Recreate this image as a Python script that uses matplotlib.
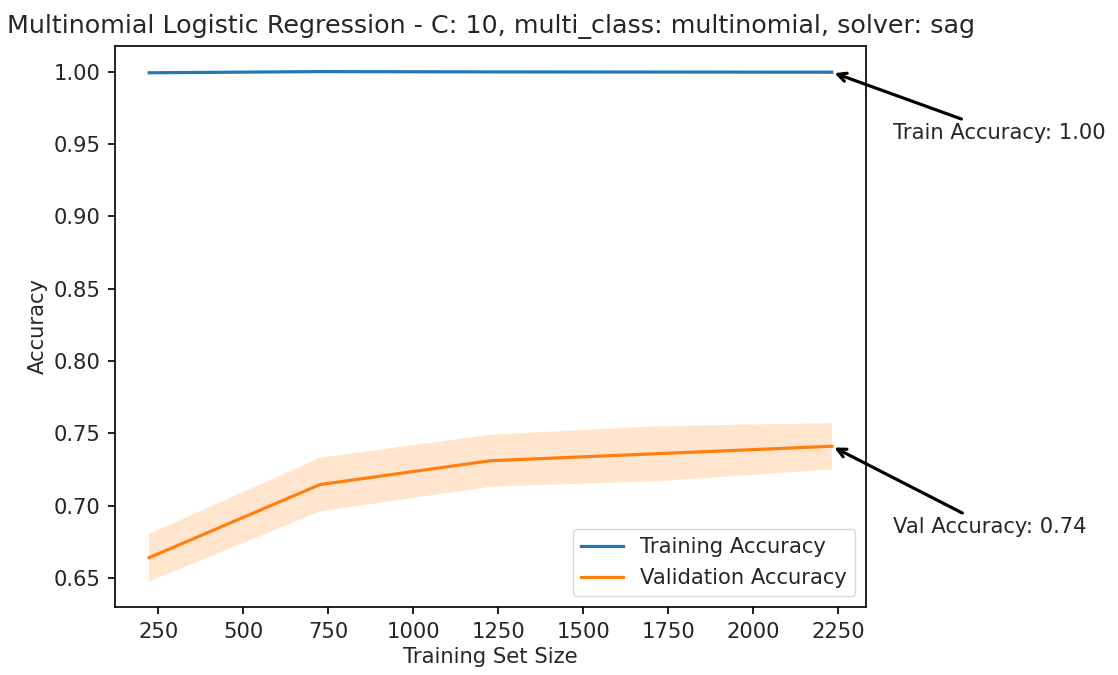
import matplotlib
matplotlib.use("Agg")
import matplotlib.pyplot as plt
import numpy as np

# learning curve results (5 train sizes)
train_sizes = [223, 725, 1227, 1730, 2232]
train_mean = [0.9992, 1.0000, 0.9998, 0.9997, 0.9996]
train_std = [0.0004, 0.0001, 0.0002, 0.0002, 0.0002]
val_mean = [0.664, 0.7145, 0.731, 0.736, 0.741]
val_std = [0.0165, 0.0185, 0.018, 0.019, 0.016]

title = "Multinomial Logistic Regression - C: 10, multi_class: multinomial, solver: sag"

S = 1.52  # scale from a 6.4x4.8 notebook figure up to this canvas
plt.rcParams.update({
    "font.size": 10 * S,
    "axes.linewidth": 0.8 * S,
    "xtick.major.width": 0.8 * S,
    "ytick.major.width": 0.8 * S,
    "xtick.major.size": 3.5 * S,
    "ytick.major.size": 3.5 * S,
    "xtick.major.pad": 3.5 * S,
    "ytick.major.pad": 3.5 * S,
    "lines.linewidth": 1.5 * S,
    "text.color": "#262626",
    "axes.labelcolor": "#262626",
    "xtick.labelcolor": "#262626",
    "ytick.labelcolor": "#262626",
})

fig = plt.figure(figsize=(11.18, 6.75), dpi=100)
ax = fig.add_axes([0.1029, 0.1007, 0.6717, 0.8312])

sizes = np.array(train_sizes)
tm, ts = np.array(train_mean), np.array(train_std)
vm, vs = np.array(val_mean), np.array(val_std)

ax.plot(sizes, tm, label="Training Accuracy")
ax.fill_between(sizes, tm - ts, tm + ts, alpha=0.2)
ax.plot(sizes, vm, label="Validation Accuracy")
ax.fill_between(sizes, vm - vs, vm + vs, alpha=0.2)

ax.set_title(title, fontsize=12 * S, pad=6 * S)
ax.set_xlabel("Training Set Size")
ax.set_ylabel("Accuracy")
ax.legend(loc="lower right")

arrow = dict(facecolor="black", arrowstyle="->", lw=1.5 * S)
ax.annotate(f"Train Accuracy: {train_mean[-1]:.2f}",
            xy=(sizes[-1], tm[-1]), xytext=(sizes[-1] + 180, tm[-1] - 0.046),
            arrowprops=arrow, fontsize=10 * S)
ax.annotate(f"Val Accuracy: {val_mean[-1]:.2f}",
            xy=(sizes[-1], vm[-1]), xytext=(sizes[-1] + 180, vm[-1] - 0.060),
            arrowprops=arrow, fontsize=10 * S)

fig.savefig("out.png", dpi=100)
